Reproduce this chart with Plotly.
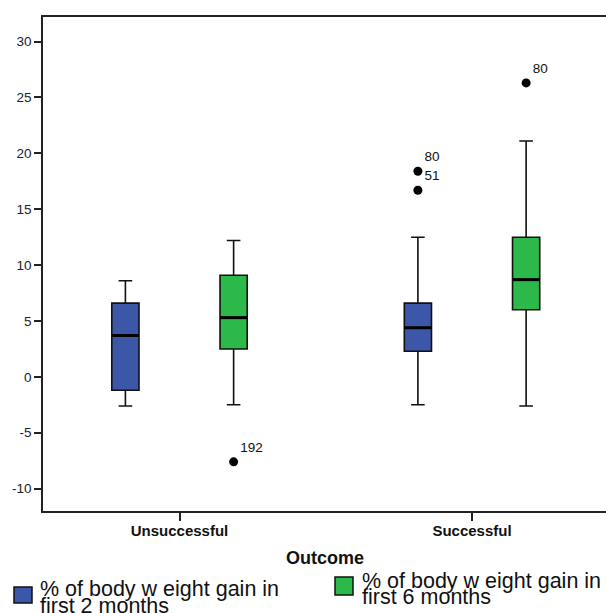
import plotly.graph_objects as go

# ---- data ----
categories = ["Unsuccessful", "Successful"]
series_line1 = ["% of body w eight gain in", "% of body w eight gain in"]
series_line2 = ["first 2 months", "first 6 months"]

# first 2 months (blue)
q1_2m = [-1.2, 2.3]
med_2m = [3.7, 4.4]
q3_2m = [6.6, 6.6]
lo_2m = [-2.6, -2.5]
hi_2m = [8.6, 12.5]

# first 6 months (green)
q1_6m = [2.5, 6.0]
med_6m = [5.3, 8.7]
q3_6m = [9.1, 12.5]
lo_6m = [-2.5, -2.6]
hi_6m = [12.2, 21.1]

# outliers: category index, series index, value, case label
out_cat = [0, 1, 1, 1]
out_series = [1, 0, 0, 1]
out_val = [-7.6, 18.4, 16.7, 26.3]
out_label = ["192", "80", "51", "80"]

y_ticks = [-10, -5, 0, 5, 10, 15, 20, 25, 30]

# ---- layout / style constants ----
# the reference's plot frame runs past the right edge of the 606 px image,
# so the figure is a little wider than the window and the overflow is hidden
W, H = 612, 613
ML, MR, MT, MB = 43, 0, 17, 102
X_RANGE = [-0.4667, 1.4786]
OFFSETS = [-0.185, 0.185]
BOX_W = 0.093
COLORS = ["#3d57a8", "#2db84a"]
FONT = "Liberation Sans, Arial, sans-serif"

# legend placement in pixels (SPSS-style legend below the chart)
LEG_SWATCH = [(14, 587, 32, 603), (335, 577, 353, 595)]
LEG_TEXT_X = [38, 360]
LEG_TEXT_BASE = [(595, 612), (587, 603)]
LEG_FONT = 21.5

PW, PH = W - ML - MR, H - MT - MB


def px_to_paper_x(px):
    return (px - ML) / PW


def px_to_paper_y(py):
    return (H - MB - py) / PH


stats = [
    (q1_2m, med_2m, q3_2m, lo_2m, hi_2m),
    (q1_6m, med_6m, q3_6m, lo_6m, hi_6m),
]

fig = go.Figure()
shapes = []
annotations = []
for s, (q1, med, q3, lo, hi) in enumerate(stats):
    xs = [i + OFFSETS[s] for i in range(len(categories))]
    fig.add_trace(go.Box(
        x=xs, q1=q1, median=med, q3=q3, lowerfence=lo, upperfence=hi,
        width=BOX_W, whiskerwidth=0.5, boxpoints=False,
        fillcolor=COLORS[s], line=dict(color="#111111", width=1.6),
        name=series_line1[s] + " " + series_line2[s], hoverinfo="skip",
        showlegend=False,
    ))
    for x, m in zip(xs, med):
        shapes.append(dict(type="line", xref="x", yref="y",
                           x0=x - BOX_W / 2, x1=x + BOX_W / 2, y0=m, y1=m,
                           line=dict(color="black", width=3)))
    # legend swatch + text
    x0, y0, x1, y1 = LEG_SWATCH[s]
    shapes.append(dict(type="rect", xref="paper", yref="paper",
                       x0=px_to_paper_x(x0), x1=px_to_paper_x(x1),
                       y0=px_to_paper_y(y0), y1=px_to_paper_y(y1),
                       fillcolor=COLORS[s], line=dict(color="#111", width=1.5)))
    for line_text, base in zip((series_line1[s], series_line2[s]), LEG_TEXT_BASE[s]):
        annotations.append(dict(
            text=line_text, xref="paper", yref="paper",
            x=px_to_paper_x(LEG_TEXT_X[s]), y=px_to_paper_y(base - 0.3 * LEG_FONT),
            xanchor="left", yanchor="middle", showarrow=False,
            font=dict(family=FONT, size=LEG_FONT, color="#111")))

# axis title centred under the visible part of the frame
annotations.append(dict(
    text="<b>Outcome</b>", xref="paper", yref="paper",
    x=px_to_paper_x(325), y=px_to_paper_y(558),
    xanchor="center", yanchor="middle", showarrow=False,
    font=dict(family=FONT, size=18, color="#111")))

fig.add_trace(go.Scatter(
    x=[c + OFFSETS[s] for c, s in zip(out_cat, out_series)],
    y=out_val, text=out_label, mode="markers+text",
    textposition="top right",
    textfont=dict(family=FONT, size=13.5, color="#111"),
    marker=dict(color="black", size=9), showlegend=False, hoverinfo="skip",
))

fig.update_layout(
    width=W, height=H,
    margin=dict(l=ML, r=MR, t=MT, b=MB, autoexpand=False),
    plot_bgcolor="white", paper_bgcolor="white",
    font=dict(family=FONT, color="#222"),
    shapes=shapes, annotations=annotations,
    showlegend=False,
    xaxis=dict(
        range=X_RANGE, showgrid=False, zeroline=False,
        showline=True, linecolor="#222", linewidth=1.5, mirror=True,
        ticks="outside", ticklen=8, tickwidth=1.5, tickcolor="#222",
        ticklabelstandoff=-3,
        tickvals=list(range(len(categories))), ticktext=categories,
        tickfont=dict(family=FONT, size=15, color="#111", weight="bold"),
    ),
    yaxis=dict(
        range=[-12, 32.2], showgrid=False, zeroline=False,
        showline=True, linecolor="#222", linewidth=1.5, mirror=False,
        ticks="outside", ticklen=7, tickwidth=1.5, tickcolor="#222",
        tickvals=y_ticks, ticktext=[str(v) for v in y_ticks],
        tickfont=dict(family=FONT, size=13.5, color="#222"),
    ),
)

fig.write_html("out.html",
               config={"displayModeBar": False},
               post_script="document.body.style.margin='0';"
                           "document.body.style.overflow='hidden';")
